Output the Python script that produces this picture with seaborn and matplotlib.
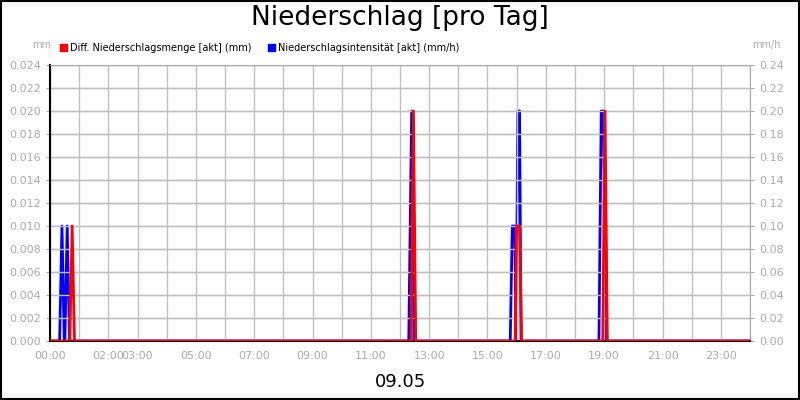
import matplotlib
matplotlib.use("Agg")
import matplotlib.pyplot as plt
import seaborn as sns
import pandas as pd

sns.set_style("white")
plt.rcParams['font.family'] = ['DejaVu Sans']
plt.rcParams['text.color'] = 'black'

# Diff. Niederschlagsmenge (mm), left axis; time in hours
red_t = [0, 0.68, 0.76, 0.84, 12.38, 12.46, 12.54, 15.95, 16.0, 16.1, 16.17, 18.95, 19.03, 19.11, 24]
red_v = [0, 0, 0.010, 0, 0, 0.020, 0, 0, 0.010, 0.010, 0, 0, 0.020, 0, 0]
# Niederschlagsintensität (mm/h), right axis
blue_t = [0, 0.33, 0.41, 0.49, 0.51, 0.59, 0.67, 12.3, 12.4, 12.48, 15.78, 15.85, 15.93, 15.98, 16.04, 16.1, 16.15,
          18.82, 18.9, 18.98, 19.04, 24]
blue_v = [0, 0, 0.10, 0, 0, 0.10, 0, 0, 0.20, 0, 0, 0.10, 0.10, 0, 0.20, 0.20, 0,
          0, 0.20, 0.20, 0, 0]
xticks = [0, 2, 3, 5, 7, 9, 11, 13, 15, 17, 19, 21, 23]
xlabels = ["00:00", "02:00", "03:00", "05:00", "07:00", "09:00", "11:00", "13:00",
           "15:00", "17:00", "19:00", "21:00", "23:00"]

fig = plt.figure(figsize=(8, 4), dpi=100)
ax = fig.add_axes([0.0625, 0.1475, 0.875, 0.69])
ax2 = ax.twinx()
grey = "#aaaaaa"

sns.lineplot(x=blue_t, y=blue_v, ax=ax2, color="#0000ff", lw=2)
sns.lineplot(x=red_t, y=red_v, ax=ax, color="#ff0000", lw=2, zorder=5)
ax.set_zorder(ax2.get_zorder() + 1)
ax.patch.set_visible(False)

ax.set_xlim(0, 24)
ax.set_ylim(0, 0.024)
ax2.set_ylim(0, 0.24)
ax.set_yticks([i * 0.002 for i in range(13)])
ax.set_yticklabels([f"{i*0.002:.3f}" for i in range(13)])
ax2.set_yticks([i * 0.02 for i in range(13)])
ax2.set_yticklabels([f"{i*0.02:.2f}" for i in range(13)])
ax.set_xticks(range(25), minor=True)
ax.set_xticks(xticks)
ax.set_xticklabels(xlabels)
ax.grid(True, which="both", axis="x", color="#c0c0c0", lw=1)
ax2.grid(True, axis="y", color="#c0c0c0", lw=1)
ax.grid(True, axis="y", color="#c0c0c0", lw=1)
for a in (ax, ax2):
    a.tick_params(labelsize=8, colors=grey, length=3, direction="out")
    a.tick_params(axis="both", which="minor", length=0)
    a.set_xlabel("")
    a.set_ylabel("")
for s in ("left", "bottom"):
    ax.spines[s].set_color("black")
    ax.spines[s].set_linewidth(1.5)
ax.spines["top"].set_color(grey)
ax.spines["right"].set_color(grey)
for s in ax2.spines.values():
    s.set_visible(False)
ax.tick_params(axis="x", colors=grey, pad=4)
ax.tick_params(axis="x", which="major", color="black")

fig.text(0.5, 0.955, "Niederschlag [pro Tag]", ha="center", va="center", fontsize=19, color="black")
fig.text(0.04, 0.88, "mm", fontsize=7, color=grey)
fig.text(0.94, 0.88, "mm/h", fontsize=7, color=grey)
fig.text(0.5, 0.045, "09.05", ha="center", va="center", fontsize=13, color="black")
fig.patches.append(plt.Rectangle((0.075, 0.872), 0.009, 0.018, color="#ff0000", transform=fig.transFigure))
fig.text(0.088, 0.881, "Diff. Niederschlagsmenge [akt] (mm)", fontsize=7, va="center", color="black")
fig.patches.append(plt.Rectangle((0.335, 0.872), 0.009, 0.018, color="#0000ff", transform=fig.transFigure))
fig.text(0.348, 0.881, "Niederschlagsintensität [akt] (mm/h)", fontsize=7, va="center", color="black")
fig.patches.append(plt.Rectangle((0.001, 0.002), 0.998, 0.996, fill=False, ec="black", lw=1.5, transform=fig.transFigure))
fig.savefig("out.png", dpi=100, facecolor="white")
